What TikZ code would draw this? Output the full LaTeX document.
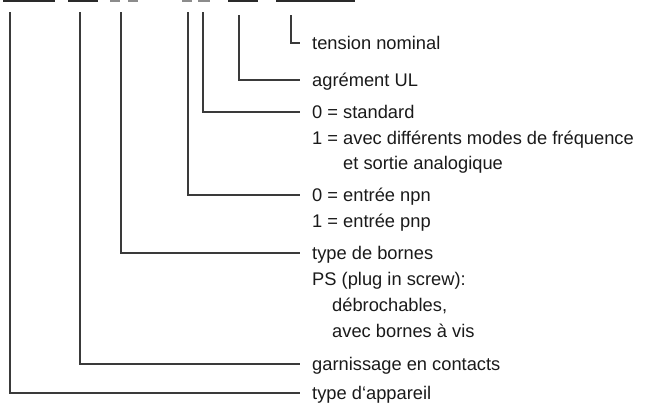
\documentclass[tikz,border=0pt]{standalone}
\usepackage{fontspec}
\setmainfont{Liberation Sans}
\definecolor{inkline}{HTML}{3A3A3A}
\definecolor{inkbar}{HTML}{2A2A2A}
\definecolor{greybar}{HTML}{8C8C8C}
\definecolor{inktext}{HTML}{1A1A1A}
\begin{document}
\begin{tikzpicture}[x=1pt,y=-1pt,
  conn/.style={draw=inkline,line width=1.1pt},
  lbl/.style={anchor=base west,inner xsep=12pt,inner ysep=0pt,
    text height=13pt,text depth=0pt,text=inktext,
    font=\fontsize{18.3}{25.5}\selectfont},
  sub/.style={anchor=base west,inner sep=0pt,text=inktext,
    font=\fontsize{18.3}{25.5}\selectfont},
  darkbar/.style={fill=inkbar},
  lightbar/.style={fill=greybar}]
\useasboundingbox (0,0) rectangle (659,405);

% code fields along the top edge
\fill[darkbar]  (3,-1) rectangle (55,1.6);
\fill[darkbar]  (68,-1) rectangle (98,1.6);
\fill[lightbar] (110,-1) rectangle (120,1.6);
\fill[lightbar] (128,-1) rectangle (138,1.6);
\fill[lightbar] (182,-1) rectangle (192,1.6);
\fill[lightbar] (198,-1) rectangle (210,1.6);
\fill[darkbar]  (228,-1) rectangle (258,1.6);
\fill[darkbar]  (276,-1) rectangle (355,1.6);

% start points of the leader lines
\coordinate (f1) at (10,12);
\coordinate (f2) at (80,12);
\coordinate (f3) at (121,12);
\coordinate (f4) at (188,12);
\coordinate (f5) at (203,12);
\coordinate (f6) at (239,15);
\coordinate (f7) at (291,15);

% labels
\node[lbl] (tension) at (300,49.5) {tension nominal};
\node[lbl] (ul) at (300,86.5) {agrément UL};
\node[lbl] (std) at (300,118.5) {0 = standard};
\node[sub] (std1) at (312,144) {1 = avec différents modes de fréquence};
\node[sub] (std2) at (312,169.5) {\phantom{1 = }et sortie analogique};
\node[lbl] (npn) at (300,201.5) {0 = entrée npn};
\node[sub] (pnp) at (312,227) {1 = entrée pnp};
\node[lbl] (bornes) at (300,259.5) {type de bornes};
\node[sub] (ps) at (312,285.5) {PS (plug in screw):};
\node[sub] (ps1) at (332,311.5) {débrochables,};
\node[sub] (ps2) at (332,337.5) {avec bornes à vis};
\node[lbl] (contacts) at (300,370.5) {garnissage en contacts};
\node[lbl] (appareil) at (300,399.5) {type d‘appareil};

% leader lines
\draw[conn] (f7) |- (tension.west);
\draw[conn] (f6) |- (ul.west);
\draw[conn] (f5) |- (std.west);
\draw[conn] (f4) |- (npn.west);
\draw[conn] (f3) |- (bornes.west);
\draw[conn] (f2) |- (contacts.west);
\draw[conn] (f1) |- (appareil.west);
\end{tikzpicture}
\end{document}
